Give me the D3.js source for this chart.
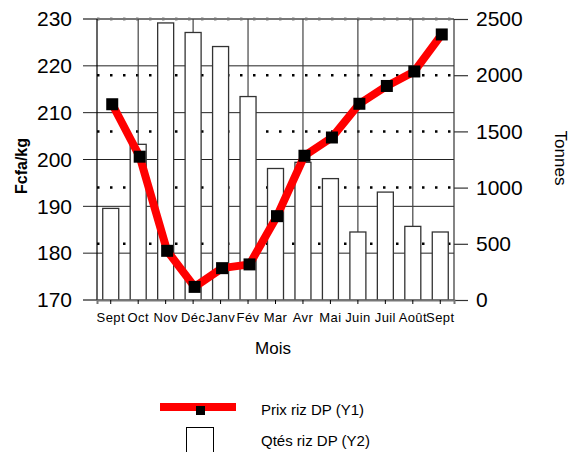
<!DOCTYPE html>
<html>
<head>
<meta charset="utf-8">
<script src="https://cdn.jsdelivr.net/npm/d3@7"></script>
<style>
  body { margin: 0; background: #fff; }
  text { font-family: "Liberation Sans", Arial, sans-serif; fill: #000; }
</style>
</head>
<body>
<div id="chart"></div>
<script>
// months (Sept -> Sept)
var months = ["Sept", "Oct", "Nov", "Déc", "Janv", "Fév", "Mar", "Avr", "Mai", "Juin", "Juil", "Août", "Sept"];
// Prix riz DP, Fcfa/kg (Y1)
var prix = [211.8, 200.6, 180.5, 172.8, 176.8, 177.6, 187.9, 200.8, 204.7, 211.9, 215.7, 218.8, 226.7];
// Qtés riz DP, tonnes (Y2)
var qtes = [815, 1385, 2465, 2380, 2255, 1810, 1170, 1225, 1080, 605, 960, 655, 605];
var y1Ticks = [170, 180, 190, 200, 210, 220, 230];
var y2Ticks = [0, 500, 1000, 1500, 2000, 2500];

var W = 573, H = 452;
var pLeft = 97, pRight = 454, pTop = 19, pBottom = 300;

var svg = d3.select('#chart').append('svg')
  .attr('width', W).attr('height', H);

var x = d3.scaleBand().domain(d3.range(months.length)).range([pLeft, pRight]);
var y1 = d3.scaleLinear().domain([170, 230]).range([pBottom, pTop]);
var y2 = d3.scaleLinear().domain([0, 2500]).range([pBottom, pTop]);
var cx = function(i) { return x(i) + x.bandwidth() / 2; };

// dotted grid on the Y2 ticks
svg.append('g').selectAll('line').data(y2Ticks.slice(1)).enter().append('line')
  .attr('x1', pLeft).attr('x2', pRight)
  .attr('y1', function(d) { return y2(d); }).attr('y2', function(d) { return y2(d); })
  .attr('stroke', '#000').attr('stroke-width', 2.5)
  .attr('stroke-dasharray', '2.5,10.5');

// solid grid on the Y1 ticks (with the outer tick part)
svg.append('g').selectAll('line').data(y1Ticks).enter().append('line')
  .attr('x1', pLeft - 14).attr('x2', pRight)
  .attr('y1', function(d) { return y1(d); }).attr('y2', function(d) { return y1(d); })
  .attr('stroke', function(d) { return d == 230 || d == 170 ? '#777' : '#222'; })
  .attr('stroke-width', function(d) { return d == 230 || d == 170 ? 2 : 1; });

// vertical grid every other month
svg.append('g').selectAll('line').data(d3.range(1, months.length, 2)).enter().append('line')
  .attr('x1', cx).attr('x2', cx).attr('y1', pTop).attr('y2', pBottom)
  .attr('stroke', '#444').attr('stroke-width', 1.2);

// bars
var bw = 16;
svg.append('g').selectAll('rect').data(qtes).enter().append('rect')
  .attr('x', function(d, i) { return cx(i) - bw / 2; })
  .attr('y', function(d) { return y2(d); })
  .attr('width', bw)
  .attr('height', function(d) { return pBottom - y2(d); })
  .attr('fill', '#fff').attr('stroke', '#333').attr('stroke-width', 1.3);

// frame
svg.append('line').attr('x1', pLeft).attr('x2', pLeft).attr('y1', pTop).attr('y2', pBottom)
  .attr('stroke', '#000').attr('stroke-width', 1.2);
svg.append('line').attr('x1', pRight).attr('x2', pRight).attr('y1', pTop).attr('y2', pBottom)
  .attr('stroke', '#333').attr('stroke-width', 1.2);

// left axis
var ax1 = svg.append('g').attr('transform', 'translate(' + pLeft + ',0)')
  .call(d3.axisLeft(y1).tickValues(y1Ticks).tickSize(14).tickPadding(11));
ax1.select('.domain').remove();
ax1.selectAll('line').remove();
ax1.selectAll('text').style('font-size', '21px').attr('font-family', null);

// right axis
var ax2 = svg.append('g').attr('transform', 'translate(' + pRight + ',0)')
  .call(d3.axisRight(y2).tickValues(y2Ticks).tickFormat(d3.format('d')).tickSize(14).tickPadding(8));
ax2.select('.domain').remove();
ax2.selectAll('line').attr('stroke', '#333').attr('stroke-width', 1.2);
ax2.selectAll('text').style('font-size', '21px').attr('font-family', null);

// bottom axis
var ax3 = svg.append('g').attr('transform', 'translate(0,' + pBottom + ')')
  .call(d3.axisBottom(x).tickFormat(function(i) { return months[i]; }).tickSize(4).tickPadding(9));
ax3.select('.domain').attr('stroke', '#777').attr('stroke-width', 2);
ax3.selectAll('line').attr('stroke', '#000');
ax3.selectAll('text').style('font-size', '13px').style('letter-spacing', '0.4px').attr('font-family', null);

// price line
var line = d3.line().x(function(d, i) { return cx(i) + 1.5; }).y(function(d) { return y1(d); });
svg.append('path').datum(prix).attr('d', line)
  .attr('fill', 'none').attr('stroke', '#ff0000').attr('stroke-width', 8)
  .attr('stroke-linejoin', 'round');
svg.append('g').selectAll('rect').data(prix).enter().append('rect')
  .attr('x', function(d, i) { return cx(i) + 1.5 - 6; })
  .attr('y', function(d) { return y1(d) - 6; })
  .attr('width', 12).attr('height', 12).attr('fill', '#000');

// axis titles
svg.append('text').attr('transform', 'translate(27,166) rotate(-90)')
  .attr('text-anchor', 'middle').style('font-size', '16px').style('font-weight', 'bold')
  .text('Fcfa/kg');
svg.append('text').attr('transform', 'translate(555,158) rotate(90)')
  .attr('text-anchor', 'middle').style('font-size', '17px')
  .text('Tonnes');
svg.append('text').attr('x', 273).attr('y', 354)
  .attr('text-anchor', 'middle').style('font-size', '17px')
  .text('Mois');

// legend
svg.append('rect').attr('x', 160).attr('y', 403).attr('width', 76).attr('height', 8).attr('fill', '#ff0000');
svg.append('rect').attr('x', 196).attr('y', 406).attr('width', 9).attr('height', 9).attr('fill', '#000');
svg.append('text').attr('x', 261).attr('y', 415).style('font-size', '15px').text('Prix riz DP (Y1)');
svg.append('rect').attr('x', 186.5).attr('y', 427.5).attr('width', 27).attr('height', 30)
  .attr('fill', '#fff').attr('stroke', '#000').attr('stroke-width', 1);
svg.append('text').attr('x', 261).attr('y', 446).style('font-size', '15px').text('Qtés riz DP (Y2)');
</script>
</body>
</html>
